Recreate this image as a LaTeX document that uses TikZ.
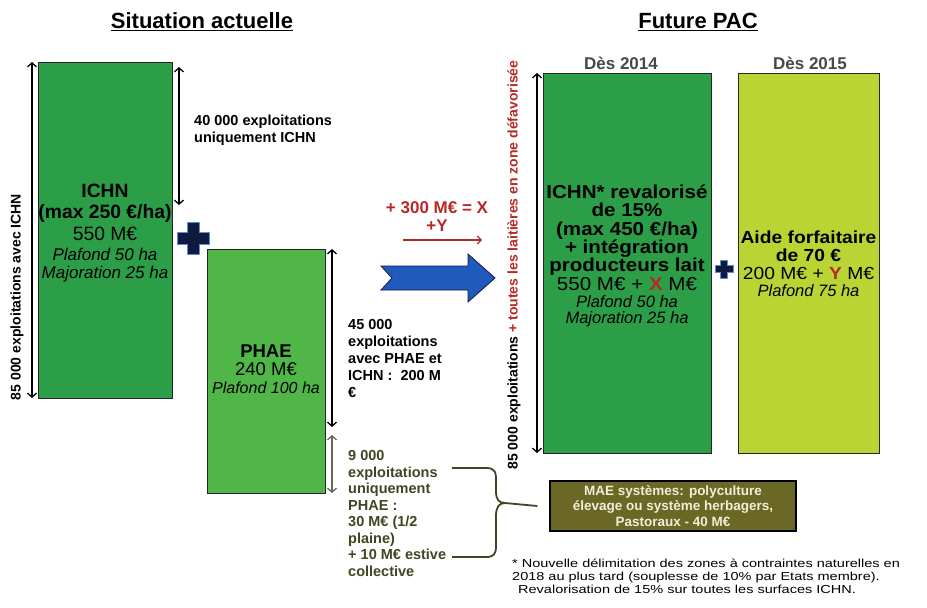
\documentclass[tikz,border=0pt]{standalone}
\usepackage{fontspec}
\setmainfont{Liberation Sans}
\newfontfamily\larg[FakeStretch=1.1]{Liberation Sans}
\newfontfamily\tlarg[FakeStretch=1.25]{Liberation Sans}
\usepackage{xcolor}
\usepackage{tikz}
\usetikzlibrary{arrows.meta}
\definecolor{ichn}{RGB}{44,158,72}
\definecolor{phae}{RGB}{80,182,72}
\definecolor{forf}{RGB}{186,212,52}
\definecolor{mae}{RGB}{106,104,36}
\definecolor{olive}{RGB}{66,68,34}
\definecolor{rouge}{RGB}{182,42,38}
\definecolor{bleu}{RGB}{32,90,188}
\definecolor{marine}{RGB}{14,26,64}
\definecolor{gris}{RGB}{72,72,72}
\definecolor{creme}{RGB}{240,238,216}
\tikzset{
  box/.style={draw=black!85, line width=1.2pt, anchor=north west, inner sep=0pt},
  dim/.style={draw=black, line width=1.3pt, {Straight Barb[length=4pt,width=9pt]}-{Straight Barb[length=4pt,width=9pt]}},
  dimo/.style={dim, draw=olive!80},
  titre/.style={font=\fontsize{22}{26}\selectfont\bfseries, inner sep=0pt},
  annee/.style={font=\fontsize{17}{20}\selectfont\bfseries, text=gris, inner sep=0pt},
  big/.style={font=\fontsize{19.3}{21.5}\selectfont\bfseries, align=center, inner sep=0pt},
  bigf/.style={big, font=\larg\fontsize{18.7}{18.3}\selectfont\bfseries},
  ital/.style={font=\fontsize{17}{18}\selectfont\itshape, align=center, inner sep=0pt},
  side/.style={font=\fontsize{14.5}{17}\selectfont\bfseries, align=left, anchor=north west, inner sep=0pt},
  rot/.style={font=\fontsize{14}{16}\selectfont\bfseries, rotate=90, inner sep=0pt},
  note/.style={font=\tlarg\fontsize{11.6}{13}\selectfont, align=left, anchor=north west, inner sep=0pt},
  croix/.pic={
    \fill[marine, draw=bleu!70, line width=0.6pt]
      (-6,-16) -- (6,-16) -- (6,-6) -- (16,-6) -- (16,6) -- (6,6)
      -- (6,16) -- (-6,16) -- (-6,6) -- (-16,6) -- (-16,-6) -- (-6,-6) -- cycle;
  },
}

\begin{document}
\begin{tikzpicture}[x=1pt,y=-1pt]
  \useasboundingbox (0,0) rectangle (927,608);
  % titles
  \node[titre] (tsit) at (202,22) {\underline{Situation actuelle}};
  \node[titre] (tpac) at (698,22) {\underline{Future PAC}};

  % current situation
  \node[box, fill=ichn, minimum width=134, minimum height=336] (ichn) at (38,62) {};
  \node[big] (ichnt) at (105,212) {ICHN\\(max 250 €/ha)\\{\mdseries 550 M€}};
  \node[ital] (ichni) at (105,265) {Plafond 50 ha\\Majoration 25 ha};
  \coordinate (a1h) at (32,62);
  \coordinate (a1b) at (32,398);
  \draw[dim] (a1h) -- (a1b);
  \node[rot] (l85) at (17,297) {85 000 exploitations avec ICHN};
  \coordinate (a2h) at (179,67);
  \coordinate (a2b) at (179,205);
  \draw[dim] (a2h) -- (a2b);
  \node[side] (l40) at (194,114.5) {40 000 exploitations\\uniquement ICHN};
  \pic at (193,238) {croix};

  \node[box, fill=phae, minimum width=118, minimum height=244] (phae) at (207,249) {};
  \node[big, font=\fontsize{18.5}{18.5}\selectfont\bfseries] (phaet) at (266,360) {PHAE\\{\mdseries 240 M€}};
  \node[ital, font=\fontsize{16}{18}\selectfont\itshape] (phaei) at (266,388) {Plafond 100 ha};
  \coordinate (a3h) at (332,249);
  \coordinate (a3b) at (332,427);
  \draw[dim] (a3h) -- (a3b);
  \coordinate (a4h) at (332,435);
  \coordinate (a4b) at (332,493);
  \draw[dimo] (a4h) -- (a4b);
  \node[side] (l45) at (348,319.5) {45 000\\exploitations\\avec PHAE et\\ICHN :~~200 M\\€};
  \node[side, text=olive, font=\fontsize{14.5}{16.5}\selectfont\bfseries] (l9) at (348,450.5)
    {9 000\\exploitations\\uniquement\\PHAE :\\30 M€ (1/2\\plaine)\\+ 10 M€ estive\\collective};

  % transition
  \node[font=\fontsize{17}{18}\selectfont\bfseries, text=rouge, align=center, inner sep=0pt]
    (gain) at (437,217) {+ 300 M€ = X\\+Y};
  \coordinate (r1) at (403,240);
  \coordinate (r2) at (482,240);
  \draw[rouge, line width=1.2pt, -{Straight Barb[length=4pt,width=8pt]}] (r1) -- (r2);
  \fill[bleu, draw=marine, line width=0.8pt]
    (381,266) -- (468,266) -- (468,254) -- (495,278) -- (468,302)
    -- (468,290) -- (381,290) -- (392,278) -- cycle;

  % future CAP
  \node[annee] (d14) at (621,63) {Dès 2014};
  \node[box, fill=ichn, minimum width=168, minimum height=380] (fut) at (543,73) {};
  \node[bigf] (futt) at (627,237.5) {ICHN* revalorisé\\de 15\%\\(max 450 €/ha)\\+ intégration\\producteurs lait\\{\mdseries 550 M€ + \textcolor{rouge}{\bfseries X} M€}};
  \node[ital, font=\fontsize{16.5}{16.5}\selectfont\itshape] (futi) at (627,311) {Plafond 50 ha\\Majoration 25 ha};
  \coordinate (a5h) at (537,73);
  \coordinate (a5b) at (537,453);
  \draw[dim] (a5h) -- (a5b);
  \node[rot] (l85f) at (514,265)
    {85 000 exploitations \textcolor{rouge}{+ toutes les laitières en zone défavorisée}};
  \pic[scale=0.56] at (724,269) {croix};

  \node[annee] (d15) at (810,63) {Dès 2015};
  \node[box, fill=forf, minimum width=141, minimum height=380] (forf) at (738,73) {};
  \node[bigf, font=\larg\fontsize{17.5}{18}\selectfont\bfseries] (forft) at (808.5,255) {Aide forfaitaire\\de 70 €\\{\mdseries 200 M€ + \textcolor{rouge}{\bfseries Y} M€}};
  \node[ital, font=\fontsize{16.5}{17}\selectfont\itshape] (forfi) at (808.5,291) {Plafond 75 ha};

  % MAE
  \node[draw=black, line width=1.2pt, fill=mae, text=creme, align=center,
    font=\fontsize{13.5}{15.5}\selectfont\bfseries, minimum width=246, minimum height=50,
    inner sep=0pt] (mae) at (673,506)
    {MAE systèmes: polyculture\\élevage ou système herbagers,\\Pastoraux - 40 M€};
  \coordinate (b1) at (452,468);
  \coordinate (b2) at (452,557);
  \draw[olive, line width=1.8pt]
    (b1) -- (486,468) .. controls (496,468) and (496,473) .. (496,482)
    -- (496,491) .. controls (496,500) and (499,503) .. (505,503)
    -- ([xshift=-12pt]mae.west);
  \draw[olive, line width=1.8pt]
    (505,503) .. controls (499,503) and (496,507) .. (496,516)
    -- (496,546) .. controls (496,554) and (494,557) .. (486,557) -- (b2);

  % footnote
  \node[note] (fn) at (512,559)
    {* Nouvelle délimitation des zones à contraintes naturelles en\\
     2018 au plus tard (souplesse de 10\% par Etats membre).\\
     \hspace{6pt}Revalorisation de 15\% sur toutes les surfaces ICHN.};
\end{tikzpicture}
\end{document}
